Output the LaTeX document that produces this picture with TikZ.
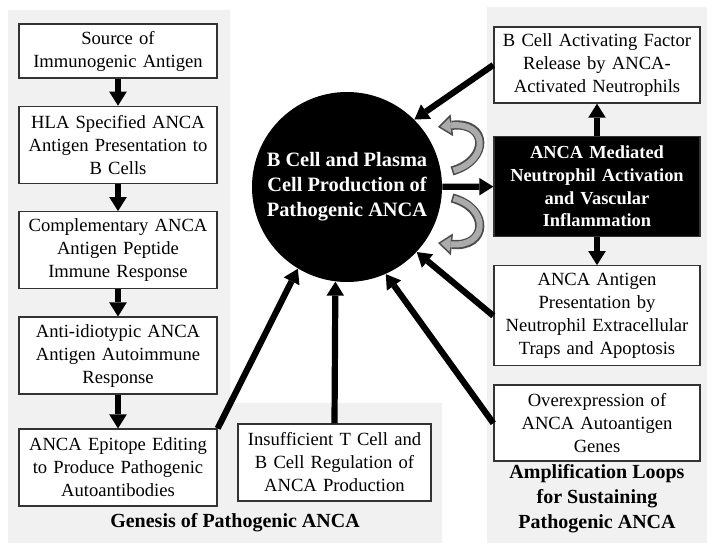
\documentclass[tikz,border=0pt]{standalone}
\usepackage{fontspec}
\setmainfont{Liberation Serif}
\usetikzlibrary{arrows.meta,chains,positioning,scopes}

\begin{document}
\begin{tikzpicture}[
            x=0.5pt, y=-0.5pt,
            node distance = 13.5pt,
            TextBox/.style={draw=black!80, line width=0.7pt, fill=white, align=center, inner xsep=1pt, inner ysep=0pt, font=\fontsize{9.3}{11.5}\selectfont},
            LeftBox/.style={TextBox, text width=97pt, minimum height=38.5pt},
            StepBox/.style={LeftBox, on chain},
            RightBox/.style={TextBox, text width=101pt, minimum height=38pt},
            Title/.style={font=\fontsize{10}{12.5}\selectfont\bfseries, align=center},
            Conn/.style={line width=3.1pt, -{Triangle[length=7pt,width=8.8pt,line width=0pt]}},
            LoopOuter/.style={line width=4.6pt, draw=black!70, -{Triangle[length=7pt,width=11pt,line width=0pt]}},
            LoopInner/.style={line width=3pt, draw=black!33, shorten >=1.3pt, shorten <=0.8pt, -{Triangle[length=4.9pt,width=7.7pt,line width=0pt]}},
            ]
            \useasboundingbox (0,0) rectangle (714,551);

            % grey panels
            \fill[gray!11] (8,10) -- (230,10) -- (230,403) -- (442,403) -- (442,543) -- (8,543) -- cycle;
            \fill[gray!11] (487,7) rectangle (707,543);

            % genesis column
            \node[LeftBox, minimum height=27pt] (source) at (118,51) {Source of\\Immunogenic Antigen};
            { [start chain = going below]
            \chainin (source);
            \node[StepBox] (hla) {HLA Specified ANCA\\Antigen Presentation to\\B Cells};
            \node[StepBox] (compl) {Complementary ANCA\\Antigen Peptide\\Immune Response};
            \node[StepBox] (idio) {Anti-idiotypic ANCA\\Antigen Autoimmune\\Response};
            \node[StepBox, yshift=-3.25pt] (edit) {ANCA Epitope Editing\\to Produce Pathogenic\\Autoantibodies};
            }
            \node[TextBox, text width=94.5pt, minimum height=38.5pt] (treg) at (334.5,462.5) {Insufficient T Cell and\\B Cell Regulation of\\ANCA Production};

            \node[circle, fill=black, minimum size=95pt, inner sep=0pt, text=white, align=center, font=\fontsize{10.2}{12.5}\selectfont\bfseries] (core) at (347,187) {B Cell and Plasma\\Cell Production of\\Pathogenic ANCA};

            % amplification column
            \node[RightBox] (baff) at (597,65) {B Cell Activating Factor\\Release by ANCA-\\Activated Neutrophils};
            \node[RightBox, below=16pt of baff, fill=black, text=white, minimum height=50pt, font=\fontsize{9.2}{11.35}\selectfont\bfseries] (activ) {ANCA Mediated\\Neutrophil Activation\\and Vascular\\Inflammation};
            \node[RightBox, below=14pt of activ, minimum height=50pt] (present) {ANCA Antigen\\Presentation by\\Neutrophil Extracellular\\Traps and Apoptosis};
            \node[RightBox, below=9pt of present] (overexp) {Overexpression of\\ANCA Autoantigen\\Genes};

            \node[Title] (genesis) at (235,523) {Genesis of Pathogenic ANCA};
            \node[Title] (amplif) at (597,499) {Amplification Loops\\for Sustaining\\Pathogenic ANCA};

            \draw[Conn] (source) -- (hla);
            \draw[Conn] (hla) -- (compl);
            \draw[Conn] (compl) -- (idio);
            \draw[Conn] (idio) -- (edit);
            \draw[Conn] (edit.north east) -- (core.-121);
            \draw[Conn] (treg.north) -- (core.-97);
            \draw[Conn] (overexp.west) -- (core.-66);
            \draw[Conn] (present.west) -- (core.-43);
            \draw[Conn] (baff.west) -- (core.45);
            \draw[Conn] (core) -- (activ);
            \draw[Conn] (activ) -- (baff);
            \draw[Conn] (activ) -- (present);

            % feedback loops
            \draw[LoopOuter] (452,171) .. controls (490,160) and (488,121) .. (438,127);
            \draw[LoopInner] (452,171) .. controls (490,160) and (488,121) .. (438,127);
            \draw[LoopOuter] (452,198) .. controls (490,208) and (488,248) .. (438,243);
            \draw[LoopInner] (452,198) .. controls (490,208) and (488,248) .. (438,243);

        \end{tikzpicture}
\end{document}
